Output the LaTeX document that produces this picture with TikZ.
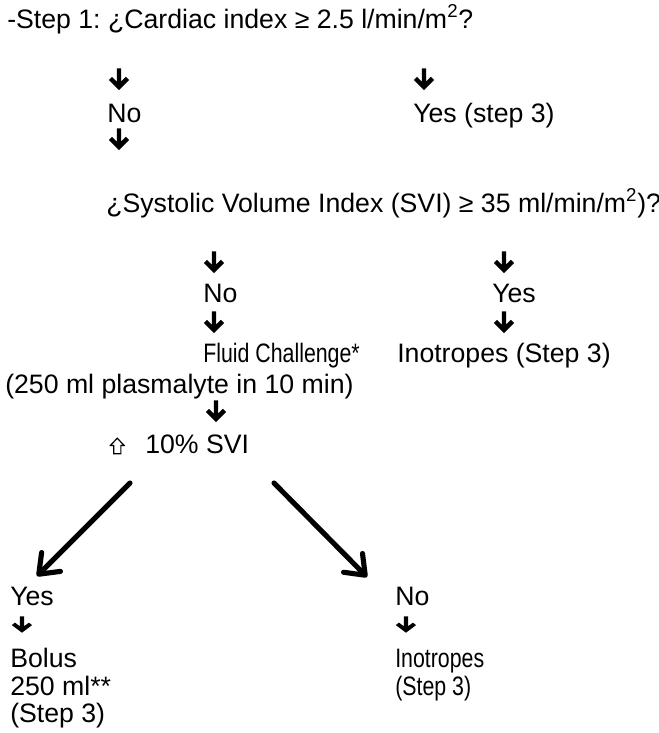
\documentclass[tikz,border=0pt]{standalone}
\usepackage{fontspec}
\setmainfont{Liberation Sans}
\frenchspacing
\usetikzlibrary{positioning,arrows.meta}

\begin{document}
\begin{tikzpicture}[x=0.75pt,y=-0.75pt,
    txt node/.style={anchor=base west,inner sep=0pt,font=\fontsize{20}{24}\selectfont},
    arr node/.style={anchor=north west,inner sep=0pt,minimum width=16pt,minimum height=17pt,
      path picture={
        \fill ([shift={(-1.6pt,0pt)}]path picture bounding box.north)
          -- ([shift={(1.6pt,0pt)}]path picture bounding box.north)
          -- ([shift={(1.6pt,-10pt*#1)}]path picture bounding box.north)
          -- ([shift={(5.2pt,-6.4pt*#1)}]path picture bounding box.north)
          -- ([shift={(7.6pt,-8.8pt*#1)}]path picture bounding box.north)
          -- ([shift={(0pt,-16.4pt*#1)}]path picture bounding box.north)
          -- ([shift={(-7.6pt,-8.8pt*#1)}]path picture bounding box.north)
          -- ([shift={(-5.2pt,-6.4pt*#1)}]path picture bounding box.north)
          -- ([shift={(-1.6pt,-10pt*#1)}]path picture bounding box.north) -- cycle;}},
    arr node/.default=1,
    up node/.style={anchor=north west,inner sep=0pt,minimum width=12pt,minimum height=13pt,
      path picture={
        \draw[line width=0.9pt,line join=miter]
          ([yshift=-0.7pt]path picture bounding box.north)
          -- ([shift={(0.8pt,-6.2pt)}]path picture bounding box.north west)
          -- ([shift={(3.3pt,-6.2pt)}]path picture bounding box.north west)
          -- ([shift={(3.3pt,0.6pt)}]path picture bounding box.south west)
          -- ([shift={(-3.3pt,0.6pt)}]path picture bounding box.south east)
          -- ([shift={(-3.3pt,-6.2pt)}]path picture bounding box.north east)
          -- ([shift={(-0.8pt,-6.2pt)}]path picture bounding box.north east)
          -- cycle;}},
    big arrow/.style={line width=3.8pt,line cap=round,-{Straight Barb[length=13pt,width=20pt,round]}}]

  \useasboundingbox (0,0) rectangle (659,733);

  % step 1
  \node[txt node] (q1) at (7,28) {-Step 1: ¿Cardiac index ≥ 2.5 l/min/m\textsuperscript{2}?};
  \node[arr node] (a1) at (108,68) {};
  \node[arr node] (a2) at (413,68) {};
  \node[txt node] (no1) at (107,122) {No};
  \node[txt node] (yes1) at (413,122) {Yes (step 3)};
  \node[arr node] (a3) at (108,128) {};

  % SVI question
  \node[txt node] (q2) at (106,212) {¿Systolic Volume Index (SVI) ≥ 35 ml/min/m\textsuperscript{2})?};
  \node[arr node] (a4) at (203,251) {};
  \node[arr node] (a5) at (493,251) {};
  \node[txt node] (no2) at (203,302) {No};
  \node[txt node] (yes2) at (492,302) {Yes};
  \node[arr node] (a6) at (203,311) {};
  \node[arr node] (a7) at (493,311) {};
  \node[txt node] (fluid) at (203,362) {\scalebox{0.8}[1]{Fluid Challenge*}};
  \node[txt node] (ino1) at (397,362) {Inotropes (Step 3)};
  \node[txt node] (plasma) at (5,393) {(250 ml plasmalyte in 10 min)};
  \node[arr node] (a8) at (205,400) {};
  \node[up node] (up) at (109,437) {};
  \node[txt node] (svi) at (145,453) {10\% SVI};

  % response to fluids
  \coordinate (lt) at (130,483);
  \coordinate (lh) at (37,576);
  \coordinate (rt) at (274,483);
  \coordinate (rh) at (367,577);
  \draw[big arrow,gray!35,shift={(1.5,2)}] (lt) -- (lh);
  \draw[big arrow,gray!35,shift={(1.5,2)}] (rt) -- (rh);
  \draw[big arrow] (lt) -- (lh);
  \draw[big arrow] (rt) -- (rh);

  \node[txt node] (yes3) at (10,605) {Yes};
  \node[arr node=0.75] (a9) at (11,616) {};
  \node[txt node] (bolus) at (10,667) {Bolus};
  \node[txt node] (ml) at (10,695) {250 ml**};
  \node[txt node] (st1) at (10,722) {(Step 3)};

  \node[txt node] (no3) at (395,605) {No};
  \node[arr node=0.75] (a10) at (395,616) {};
  \node[txt node] (ino2) at (395,667) {\scalebox{0.8}[1]{Inotropes}};
  \node[txt node] (st2) at (395,695) {\scalebox{0.8}[1]{(Step 3)}};

\end{tikzpicture}
\end{document}
